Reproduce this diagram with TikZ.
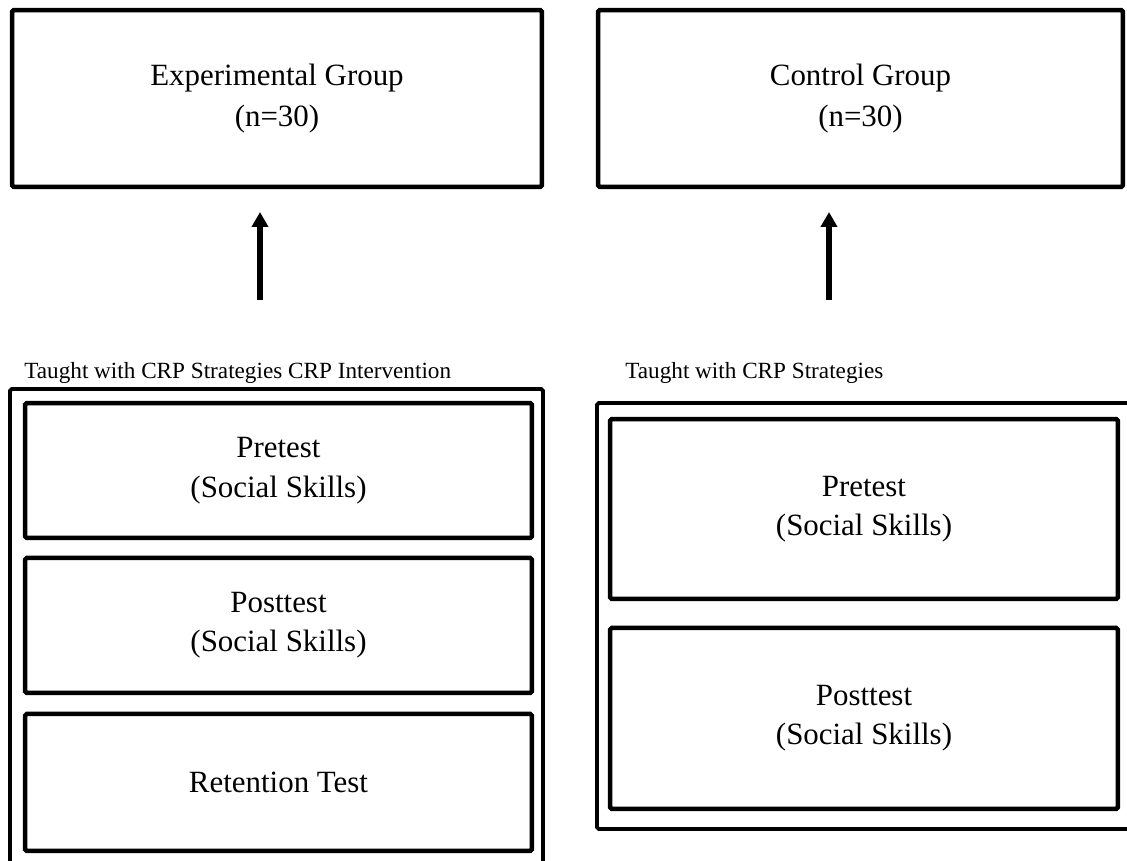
\documentclass[tikz,border=0pt]{standalone}
\usepackage{fontspec}
\setmainfont{Liberation Serif}
\usepackage{tikz}
\usetikzlibrary{
  positioning,
  arrows.meta
}
\definecolor{boxborder}{RGB}{0,0,0}
\definecolor{arrowcolor}{RGB}{0,0,0}
\tikzset{
  groupbox/.style={
    draw=boxborder, line width=0.09cm, rounded corners=1pt,
    outer sep=0pt, inner sep=0pt, align=center,
    font=\fontsize{17.6}{23.4}\selectfont
  },
  framebox/.style={
    draw=boxborder, line width=0.075cm, rounded corners=1pt,
    outer sep=0pt, inner sep=0pt
  },
  testbox/.style={
    draw=boxborder, line width=0.09cm, rounded corners=1pt,
    outer sep=0pt, inner sep=0pt, align=center,
    font=\fontsize{17.6}{22.4}\selectfont
  },
  labeltext/.style={
    inner sep=0pt, anchor=west,
    font=\fontsize{13.2}{15}\selectfont
  },
  bigarrow/.style={
    -{Triangle[width=0.32cm,length=0.3cm]}, line width=0.11cm, draw=arrowcolor
  }
}
\begin{document}
\begin{tikzpicture}[x=0.02cm, y=-0.02cm]
    \useasboundingbox (0,0) rectangle (1127,860);

    % Top row: groups
    \node[groupbox, minimum width=10.6cm, minimum height=3.54cm] (expg) at (277,98.5) {Experimental Group\\(n=30)};
    \node[groupbox, minimum width=10.5cm, minimum height=3.54cm] (ctrlg) at (860.5,98.5) {Control Group\\(n=30)};

    % Arrows up to the groups
    \coordinate (tailL) at (260,300);
    \coordinate (tailR) at (829,300);
    \draw[bigarrow, shorten >=0.5cm] (tailL) -- (tailL |- expg.south);
    \draw[bigarrow, shorten >=0.5cm] (tailR) -- (tailR |- ctrlg.south);

    % Labels above the frames
    \node[labeltext] (labL) at (24,373) {Taught with CRP Strategies CRP Intervention};
    \node[labeltext] (labR) at (625,373) {Taught with CRP Strategies};

    % Column 1: experimental tests
    \node[framebox, minimum width=10.66cm, minimum height=9.52cm] (outL) at (276.5,627) {};
    \node[testbox, minimum width=10.14cm, minimum height=2.7cm] (preL) at (278.5,470.5) {Pretest\\(Social Skills)};
    \node[testbox, minimum width=10.14cm, minimum height=2.7cm, below=0.4cm of preL] (postL) {Posttest\\(Social Skills)};
    \node[testbox, minimum width=10.14cm, minimum height=2.74cm, below=0.42cm of postL] (retL) {Retention Test};

    % Column 2: control tests
    \node[framebox, minimum width=10.68cm, minimum height=8.52cm] (outR) at (864,616) {};
    \node[testbox, minimum width=10.16cm, minimum height=3.6cm] (preR) at (864,509) {Pretest\\(Social Skills)};
    \node[testbox, minimum width=10.16cm, minimum height=3.62cm, below=0.58cm of preR] (postR) {Posttest\\(Social Skills)};

\end{tikzpicture}
\end{document}
